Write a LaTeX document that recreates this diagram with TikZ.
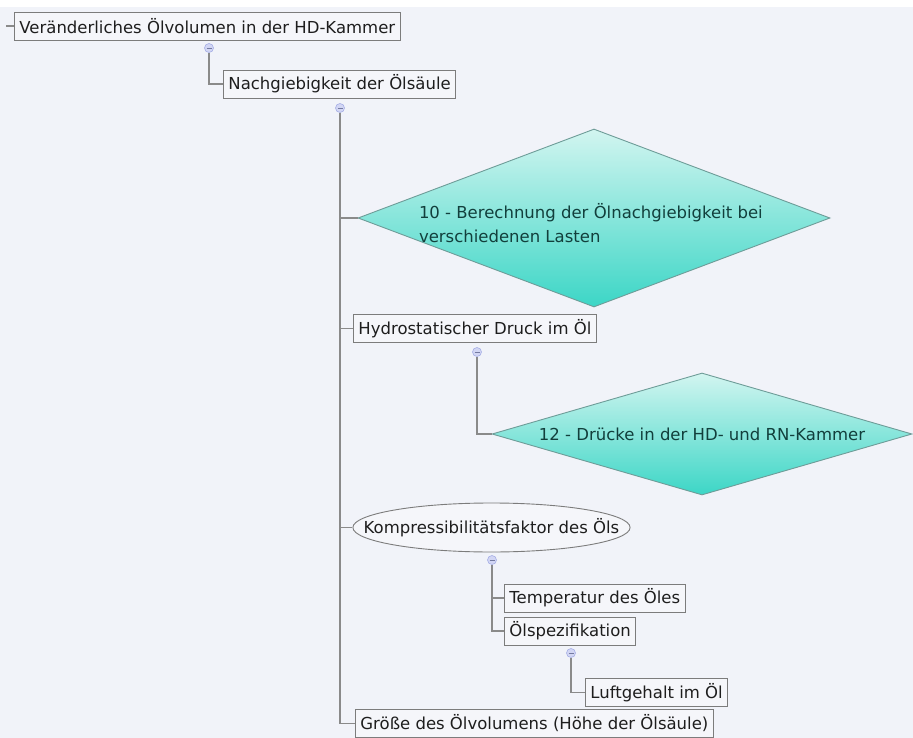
\documentclass[tikz,border=0pt]{standalone}
\usepackage{fontspec}
\setmainfont{DejaVu Sans}
\usetikzlibrary{shapes.geometric}

\definecolor{canvas}{HTML}{F1F3F9}
\definecolor{boxline}{HTML}{7C7C7C}
\definecolor{boxfill}{HTML}{F5F6FA}
\definecolor{linkgray}{HTML}{8A8A8A}
\definecolor{mkfill}{HTML}{D2D6F4}
\definecolor{mkline}{HTML}{A6AEE6}
\definecolor{tealtop}{HTML}{D2F5F0}
\definecolor{tealbot}{HTML}{3CD6C6}
\definecolor{tealline}{HTML}{6E9C98}
\definecolor{tealtext}{HTML}{123F3C}
\definecolor{inktext}{HTML}{1E1E1E}

\tikzset{
  topic/.style={draw=boxline, line width=0.9pt, fill=boxfill, text=inktext,
    font=\fontsize{16.5}{22}\selectfont, inner xsep=5pt, inner ysep=0pt,
    minimum height=28pt, anchor=west},
  oval/.style={ellipse, draw=boxline, line width=0.9pt, fill=boxfill, text=inktext,
    font=\fontsize{16.5}{22}\selectfont, inner sep=0pt},
  task/.style={diamond, draw=tealline, line width=0.9pt, top color=tealtop,
    bottom color=tealbot, text=tealtext, inner sep=0pt,
    font=\fontsize{16.5}{24}\selectfont},
  knob/.style={circle, draw=mkline, fill=mkfill, line width=0.6pt,
    minimum size=9pt, inner sep=0pt,
    path picture={\draw[mkline!70!black, line width=0.6pt]
      ([xshift=-2.5pt]path picture bounding box.center) --
      ([xshift=2.5pt]path picture bounding box.center);}},
  trunk/.style={draw=linkgray, line width=1.6pt},
  branch/.style={draw=linkgray, line width=1.2pt},
}

\begin{document}
\begin{tikzpicture}[x=1pt, y=-1pt]
  % canvas
  \fill[canvas] (0,0) rectangle (913,738);
  \fill[white] (0,0) rectangle (913,7);
  \useasboundingbox (0,0) rectangle (913,738);

  % knob positions and the free end of the root stub
  \coordinate (rootin) at (6,26);
  \coordinate (m1pos) at (209,48);
  \coordinate (m2pos) at (340,108);
  \coordinate (m3pos) at (477,352);
  \coordinate (m4pos) at (492,560);
  \coordinate (m5pos) at (571,653);

  % topics
  \node[topic] (root) at (14,26) {Veränderliches Ölvolumen in der HD-Kammer};
  \node[topic] (nach) at (223,84) {Nachgiebigkeit der Ölsäule};
  \node[task, aspect=2.65, minimum width=472pt, minimum height=178pt] (calc) at (594,218)
        {\makebox[300pt][c]{\hspace*{6pt}\raisebox{-9pt}[0pt][0pt]{\parbox{356pt}{\raggedright
          10 - Berechnung der Ölnachgiebigkeit bei\\verschiedenen Lasten}}}};
  \node[topic] (hydro) at (353,328.5) {Hydrostatischer Druck im Öl};
  \node[task, aspect=3.44, minimum width=420pt, minimum height=122pt] (press)
        at (702,434) {12 - Drücke in der HD- und RN-Kammer};
  \node[oval, minimum width=277pt, minimum height=49pt] (komp) at (491.5,527.5)
        {\makebox[196pt][c]{Kompressibilitätsfaktor des Öls}};
  \node[topic] (temp) at (504,598) {Temperatur des Öles};
  \node[topic] (spez) at (504,631) {Ölspezifikation};
  \node[topic] (luft) at (585,692.5) {Luftgehalt im Öl};
  \node[topic] (groe) at (355,723.5) {Größe des Ölvolumens (Höhe der Ölsäule)};

  % collapse knobs
  \node[knob] (m1) at (m1pos) {};
  \node[knob] (m2) at (m2pos) {};
  \node[knob] (m3) at (m3pos) {};
  \node[knob] (m4) at (m4pos) {};
  \node[knob] (m5) at (m5pos) {};

  % connectors
  \draw[branch] (rootin) -- (root.west);
  \draw[branch] (m1.south) |- (nach.west);
  \draw[trunk] (m2.south) |- (groe.west);
  \draw[trunk] (m2.south) |- (calc.west);
  \draw[trunk] (m2.south) |- (hydro.west);
  \draw[trunk] (m2.south) |- (komp.west);
  \draw[branch] (m3.south) |- (press.west);
  \draw[branch] (m4.south) |- (temp.west);
  \draw[branch] (m4.south) |- (spez.west);
  \draw[branch] (m5.south) |- (luft.west);
\end{tikzpicture}
\end{document}
